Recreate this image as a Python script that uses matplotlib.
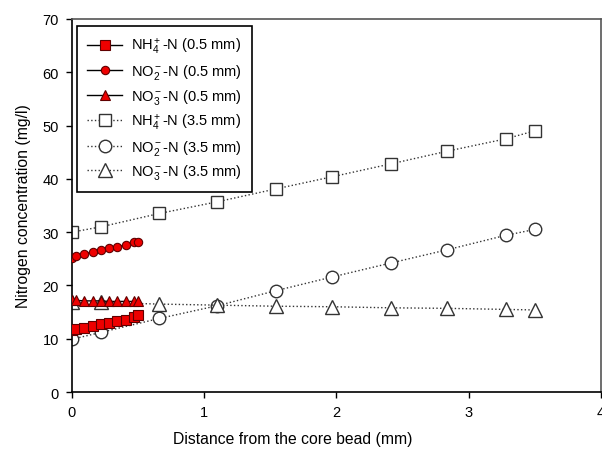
import matplotlib
matplotlib.use("Agg")
import matplotlib.pyplot as plt

plt.rcParams['font.family'] = ['Liberation Sans', 'DejaVu Sans']
plt.rcParams['mathtext.fontset'] = 'custom'
plt.rcParams['mathtext.rm'] = 'Liberation Sans'
plt.rcParams['mathtext.it'] = 'Liberation Sans'
plt.rcParams['mathtext.bf'] = 'Liberation Sans'

# data
x_05 = [0, 0.03125, 0.09375, 0.15625, 0.21875, 0.28125, 0.34375, 0.40625, 0.46875, 0.5]
nh4_05 = [11.7, 11.8, 12.1, 12.4, 12.7, 13.0, 13.3, 13.6, 14.1, 14.4]
no2_05 = [25.1, 25.5, 25.9, 26.3, 26.6, 27.0, 27.3, 27.6, 28.1, 28.2]
no3_05 = [17.2, 17.2, 17.1, 17.1, 17.1, 17.0, 17.0, 17.0, 17.0, 17.0]

x_35 = [0, 0.22, 0.66, 1.1, 1.54, 1.97, 2.41, 2.84, 3.28, 3.5]
nh4_35 = [30.0, 31.0, 33.5, 35.7, 38.1, 40.4, 42.8, 45.2, 47.5, 49.0]
no2_35 = [9.9, 11.2, 13.8, 16.2, 19.0, 21.6, 24.2, 26.7, 29.4, 30.5]
no3_35 = [16.8, 16.8, 16.5, 16.3, 16.1, 16.0, 15.8, 15.7, 15.5, 15.4]

labels = [r'NH$_4^+$-N (0.5 mm)', r'NO$_2^-$-N (0.5 mm)', r'NO$_3^-$-N (0.5 mm)',
          r'NH$_4^+$-N (3.5 mm)', r'NO$_2^-$-N (3.5 mm)', r'NO$_3^-$-N (3.5 mm)']

fig = plt.figure(figsize=(6.02, 4.52), dpi=100)
ax = fig.add_axes([0.1196, 0.1305, 0.8784, 0.8253])

red = '#ee0000'
edge = '#600000'
ax.plot(x_05, nh4_05, '-', color='black', lw=1, marker='s', ms=6.5, mfc=red, mec=edge, mew=0.8, label=labels[0], zorder=3)
ax.plot(x_05, no2_05, '-', color='black', lw=1, marker='o', ms=6, mfc=red, mec=edge, mew=0.8, label=labels[1], zorder=3)
ax.plot(x_05, no3_05, '-', color='black', lw=1, marker='^', ms=6.5, mfc=red, mec=edge, mew=0.8, label=labels[2], zorder=3)
ax.plot(x_35, nh4_35, ':', color='#333333', lw=1, marker='s', ms=9, mfc='white', mec='#333333', mew=1, label=labels[3], zorder=2)
ax.plot(x_35, no2_35, ':', color='#333333', lw=1, marker='o', ms=9, mfc='white', mec='#333333', mew=1, label=labels[4], zorder=2)
ax.plot(x_35, no3_35, ':', color='#333333', lw=1, marker='^', ms=10, mfc='white', mec='#333333', mew=1, label=labels[5], zorder=2)

ax.set_xlim(0, 4)
ax.set_ylim(0, 70)
ax.set_xticks([0, 1, 2, 3, 4])
ax.set_yticks(range(0, 71, 10))
ax.tick_params(direction='out', length=4.5, width=1, labelsize=10.5, colors='black', top=False, right=False, pad=5)
ax.spines['left'].set_linewidth(1.2)
ax.spines['bottom'].set_linewidth(1.2)
ax.spines['top'].set_color('#555555')
ax.spines['right'].set_color('#555555')
ax.spines['top'].set_linewidth(1.2)
ax.spines['right'].set_linewidth(1.2)

ax.set_xlabel('Distance from the core bead (mm)', fontsize=11.3)
ax.xaxis.set_label_coords(0.418, -0.105)
ax.set_ylabel('Nitrogen concentration (mg/l)', fontsize=11.3, labelpad=8)

leg = ax.legend(loc='upper left', bbox_to_anchor=(0.0095, 0.981), borderaxespad=0,
                fontsize=10.5, frameon=True, fancybox=False, edgecolor='black',
                framealpha=1, handlelength=2.4, handletextpad=0.6,
                labelspacing=0.4, borderpad=0.7)
leg.get_frame().set_linewidth(1.2)

fig.savefig('out.png', dpi=100)
